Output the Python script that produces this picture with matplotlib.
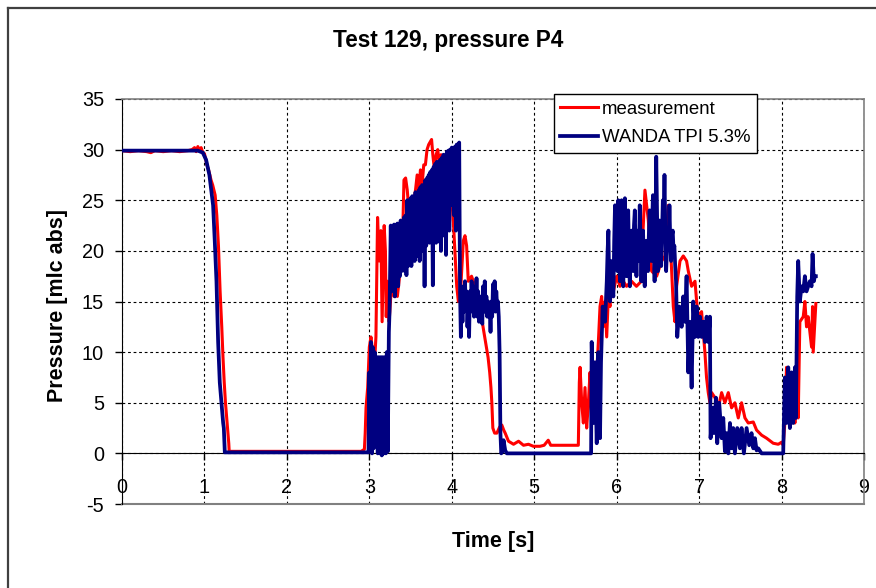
import numpy as np
import matplotlib
matplotlib.use('Agg')
from matplotlib import pyplot as plt
from matplotlib.lines import Line2D

plt.rcParams['font.family'] = ['Liberation Sans', 'DejaVu Sans']
plt.rcParams['axes.unicode_minus'] = False

#  measured pressure (red)
meas_t = [0.0, 0.1, 0.2, 0.3, 0.35, 0.4, 0.5, 0.6, 0.7, 0.8, 0.85, 0.88, 0.9, 0.92, 0.94, 0.96, 0.98,
          1.0, 1.03, 1.05, 1.08, 1.1, 1.13, 1.15, 1.17, 1.19, 1.21, 1.225, 1.24, 1.255, 1.27, 1.28, 1.295, 1.3,
          1.35, 2.0, 2.9, 2.94, 2.95, 2.96, 2.98, 3.0, 3.02, 3.04, 3.06, 3.08, 3.1, 3.12, 3.14, 3.155,
          3.18, 3.195, 3.205, 3.22, 3.24, 3.26, 3.28, 3.3, 3.32, 3.34, 3.36, 3.38, 3.4, 3.42, 3.44, 3.46,
          3.48, 3.5, 3.52, 3.54, 3.56, 3.58, 3.6, 3.62, 3.64, 3.66, 3.68, 3.7, 3.72, 3.755, 3.77, 3.79,
          3.81, 3.83, 3.85, 3.87, 3.89, 3.91, 3.93, 3.95, 3.97, 3.99, 4.01, 4.025, 4.05, 4.06, 4.08, 4.1,
          4.12, 4.14, 4.16, 4.18, 4.2, 4.24, 4.28, 4.32, 4.36, 4.385, 4.41, 4.44, 4.46, 4.475, 4.486, 4.498,
          4.52, 4.547, 4.58, 4.607, 4.63, 4.648, 4.688, 4.749, 4.81, 4.87, 4.93, 4.99, 5.07, 5.12, 5.17,
          5.2, 5.3, 5.4, 5.535, 5.547, 5.556, 5.576, 5.596, 5.616, 5.636, 5.657, 5.677, 5.697, 5.717, 5.737,
          5.758, 5.778, 5.798, 5.818, 5.838, 5.859, 5.879, 5.899, 5.919, 5.939, 5.96, 6.0, 6.04, 6.06, 6.08,
          6.12, 6.18, 6.24, 6.3, 6.32, 6.343, 6.384, 6.424, 6.485, 6.545, 6.586, 6.626, 6.667, 6.687, 6.707,
          6.727, 6.768, 6.808, 6.848, 6.869, 6.909, 6.95, 6.97, 6.99, 7.03, 7.05, 7.07, 7.09, 7.111, 7.131,
          7.152, 7.192, 7.232, 7.273, 7.313, 7.354, 7.394, 7.434, 7.475, 7.515, 7.556, 7.596, 7.657, 7.697,
          7.758, 7.818, 7.899, 7.96, 8.0, 8.02, 8.04, 8.06, 8.08, 8.1, 8.12, 8.141, 8.162, 8.182, 8.202,
          8.222, 8.263, 8.283, 8.303, 8.323, 8.343, 8.364, 8.376, 8.384, 8.404, 8.416]
meas_p = [29.9, 29.8, 29.9, 29.8, 29.7, 29.9, 29.8, 29.9, 29.8, 29.9, 30.0, 30.2, 29.8, 30.3, 29.9, 30.2, 29.7,
          29.6, 28.5, 28.0, 27.0, 26.5, 25.5, 23.5, 20.5, 16.0, 12.5, 9.5, 7.0, 5.0, 3.5, 2.5, 1.0, 0.2,
          0.2, 0.2, 0.2, 0.4, 2.0, 4.5, 6.5, 10.5, 11.5, 10.0, 8.5, 11.5, 23.3, 19.0, 22.0, 13.0,
          22.5, 20.0, 13.5, 17.0, 13.0, 15.5, 16.0, 15.5, 16.0, 15.5, 17.0, 18.5, 20.0, 27.0, 27.2, 26.0,
          24.0, 24.5, 23.5, 25.0, 26.0, 27.5, 26.0, 28.0, 26.5, 28.5, 28.5, 30.0, 30.5, 31.0, 29.5, 28.0,
          29.5, 30.0, 28.5, 29.5, 28.0, 29.0, 28.0, 27.0, 27.0, 26.5, 24.0, 22.0, 18.0, 16.5, 15.0, 15.0,
          18.0, 21.0, 21.5, 20.5, 17.0, 17.5, 16.5, 15.0, 13.5, 12.2, 11.0, 9.5, 8.0, 6.5, 5.0, 2.5,
          2.0, 2.0, 2.6, 2.8, 2.3, 2.0, 1.2, 0.9, 1.2, 0.8, 0.9, 0.7, 0.7, 0.8, 1.3,
          0.8, 0.8, 0.8, 0.8, 7.0, 8.5, 5.0, 3.0, 6.5, 2.5, 5.0, 8.0, 3.0, 6.0, 5.0,
          8.0, 11.0, 14.5, 15.5, 12.5, 15.0, 11.5, 15.5, 14.5, 16.5, 16.0, 17.5, 16.5, 18.0, 17.0,
          16.5, 17.0, 16.5, 17.0, 22.0, 26.0, 23.0, 18.0, 17.5, 19.0, 19.5, 24.5, 18.0, 14.5, 13.0,
          16.5, 19.0, 19.5, 19.0, 18.0, 16.5, 17.0, 15.0, 13.5, 14.0, 12.0, 10.0, 7.5, 6.0, 5.0,
          6.0, 5.5, 4.5, 6.0, 5.0, 6.0, 4.5, 5.0, 3.5, 5.0, 3.5, 3.0, 3.1, 2.3,
          1.8, 1.5, 1.0, 0.9, 1.1, 0.8, 3.0, 8.5, 5.0, 6.5, 3.0, 5.5, 3.0, 6.5, 3.5,
          13.0, 13.5, 15.0, 12.5, 13.5, 12.0, 10.5, 14.5, 10.0, 13.0, 14.8]

#  WANDA simulation (blue), split in pieces
w_start_t = [0.0, 0.92, 0.98, 1.02, 1.06, 1.105, 1.125, 1.146, 1.166, 1.186, 1.206, 1.227, 1.235, 1.247, 2.99,
             3.0, 3.012, 3.02, 3.033, 3.041, 3.053, 3.065, 3.078, 3.09, 3.102, 3.114, 3.127, 3.139, 3.151,
             3.163, 3.176, 3.188, 3.2, 3.212, 3.224, 3.237, 3.245]
w_start_p = [29.9, 29.9, 29.7, 29.0, 27.5, 24.5, 21.0, 17.0, 11.0, 7.0, 5.0, 3.0, 2.5, 0.1, 0.1,
             8.0, 1.0, 11.0, 0.0, 10.5, 0.5, 10.0, 1.0, 9.5, 0.0, 9.5, 0.0, 9.5, -0.2,
             9.5, 0.0, 9.5, 0.0, 10.0, 0.2, 12.0, 14.0]

w_band1_t = [3.26, 3.27, 3.28, 3.29, 3.30, 3.31, 3.32, 3.33, 3.34, 3.35, 3.36, 3.37, 3.38, 3.39,
             3.40, 3.41, 3.42, 3.43, 3.44, 3.45, 3.46, 3.47, 3.48, 3.49, 3.50, 3.51, 3.52, 3.53,
             3.54, 3.55, 3.56, 3.57, 3.58, 3.59, 3.60, 3.61, 3.62, 3.63, 3.64, 3.65, 3.66, 3.67,
             3.68, 3.69, 3.70, 3.71, 3.72, 3.73, 3.74, 3.75, 3.76, 3.77, 3.78, 3.79, 3.80, 3.81,
             3.82, 3.83, 3.84, 3.85, 3.86, 3.87, 3.88, 3.89, 3.90, 3.91, 3.92, 3.93, 3.94, 3.95,
             3.96, 3.97, 3.98, 3.99, 4.00, 4.01, 4.02, 4.03, 4.04, 4.05, 4.06, 4.07, 4.08, 4.09]
w_band1_p = [22.5, 16.0, 22.3, 16.5, 22.6, 15.5, 22.5, 17.0, 22.7, 16.5, 22.4, 17.5, 23.0, 18.0,
             22.8, 18.6, 23.3, 18.0, 23.5, 17.6, 25.0, 18.5, 24.6, 19.0, 25.2, 18.5, 25.4, 19.5,
             25.3, 19.0, 25.8, 20.0, 25.6, 19.5, 26.0, 19.0, 26.3, 20.5, 26.5, 20.0, 26.4, 16.5,
             27.0, 20.5, 27.2, 21.0, 27.5, 20.8, 27.8, 21.5, 28.0, 16.6, 28.3, 21.0, 28.6, 20.8,
             28.8, 22.0, 28.7, 20.9, 29.0, 20.0, 29.2, 22.5, 29.5, 21.5, 29.4, 19.6, 29.8, 23.0,
             29.9, 22.0, 30.0, 25.0, 30.2, 24.5, 30.0, 23.5, 30.3, 22.0, 30.5, 24.0, 30.4, 30.7]

w_band2_t = [4.10, 4.11, 4.12, 4.13, 4.14, 4.15, 4.16, 4.17, 4.18, 4.19, 4.20, 4.21, 4.22, 4.23,
             4.24, 4.25, 4.26, 4.27, 4.28, 4.29, 4.30, 4.31, 4.32, 4.33, 4.34, 4.35, 4.36, 4.37,
             4.38, 4.39, 4.40, 4.41, 4.42, 4.43, 4.44, 4.45, 4.46, 4.47, 4.48, 4.49, 4.50, 4.51,
             4.52, 4.53, 4.54, 4.55, 4.56, 4.57, 4.58, 4.59, 4.60, 4.615, 4.628, 4.648, 4.668, 5.69]
w_band2_p = [16.0, 11.5, 15.5, 13.0, 16.5, 14.0, 17.0, 14.5, 16.0, 12.5, 15.0, 11.5, 16.0, 14.0,
             17.0, 14.5, 16.5, 13.5, 16.0, 14.0, 17.3, 13.5, 16.0, 13.0, 15.5, 13.5, 15.0, 12.8,
             16.5, 14.0, 17.0, 14.0, 15.5, 13.5, 15.0, 13.5, 14.5, 12.0, 15.0, 13.5, 16.7, 14.5,
             17.0, 14.0, 16.0, 14.5, 15.0, 13.5, 10.0, 2.0, 0.0, 0.2, 1.3, 0.3, 0.0, 0.0]

w_band3_t = [5.697, 5.717, 5.737, 5.758, 5.778, 5.798, 5.81, 5.83, 5.859,
             5.88, 5.89, 5.90, 5.91, 5.92, 5.93, 5.94, 5.95, 5.96, 5.97, 5.98, 5.99, 6.00, 6.01,
             6.02, 6.03, 6.04, 6.05, 6.06, 6.07, 6.08, 6.09, 6.10, 6.11, 6.12, 6.13, 6.14, 6.15,
             6.16, 6.17, 6.18, 6.19, 6.20, 6.21, 6.22, 6.23, 6.24, 6.25, 6.26, 6.27, 6.28, 6.29,
             6.30, 6.31, 6.32, 6.33, 6.34, 6.35, 6.36, 6.37, 6.38, 6.39, 6.40, 6.41, 6.42, 6.43,
             6.44, 6.45, 6.46, 6.47, 6.48, 6.49, 6.50, 6.51, 6.52, 6.53, 6.54, 6.55, 6.56, 6.57,
             6.58, 6.59, 6.60, 6.61, 6.62, 6.63, 6.64, 6.65, 6.66, 6.67, 6.68, 6.69, 6.70, 6.71,
             6.72, 6.735]
w_band3_p = [11.0, 3.0, 9.0, 1.0, 10.0, 1.5, 9.0, 14.5, 13.0,
             17.0, 20.0, 22.0, 16.0, 15.0, 19.0, 18.5, 16.0, 15.5, 21.0, 24.5, 19.0, 21.0, 18.0,
             25.0, 19.5, 17.0, 23.5, 25.0, 18.5, 16.5, 21.0, 25.2, 20.0, 17.5, 22.5, 24.0, 19.0,
             16.5, 20.5, 22.0, 19.5, 18.0, 22.5, 24.0, 20.0, 17.5, 21.0, 22.0, 19.0, 24.5, 21.0,
             17.0, 20.5, 22.0, 18.5, 16.5, 19.0, 21.0, 19.5, 18.0, 21.5, 24.0, 21.0, 19.0, 22.5,
             25.5, 21.0, 17.0, 22.0, 29.3, 24.0, 18.0, 21.0, 23.0, 20.0, 18.5, 21.5, 25.0, 23.0,
             27.5, 22.0, 18.0, 20.0, 22.0, 20.5, 24.5, 21.0, 19.0, 21.5, 22.0, 20.0, 20.5, 18.5,
             17.0, 11.5]

w_end_t = [6.76, 6.788, 6.808, 6.828, 6.848, 6.869, 6.889, 6.909, 6.929, 6.95, 6.97, 6.99, 7.01, 7.03, 7.05,
           7.071, 7.091, 7.111, 7.131, 7.139, 7.164, 7.18, 7.204, 7.22, 7.244, 7.273, 7.293, 7.313,
           7.333, 7.354, 7.374, 7.394, 7.414, 7.434, 7.463, 7.495, 7.515, 7.543, 7.576, 7.608, 7.636,
           7.657, 7.677, 7.697, 7.717, 7.758, 8.02, 8.04, 8.06, 8.081, 8.101, 8.121, 8.141, 8.162,
           8.174, 8.19, 8.202, 8.222, 8.242, 8.263, 8.283, 8.303, 8.323, 8.343, 8.364, 8.376, 8.392,
           8.404, 8.416]
w_end_p = [14.5, 12.5, 15.5, 13.0, 17.5, 8.0, 13.0, 6.5, 15.0, 11.5, 14.5, 11.5, 13.5, 11.5, 13.0,
           11.0, 13.5, 11.0, 13.5, 1.5, 4.5, 2.0, 5.5, 1.0, 5.0, 1.5, 3.5, 0.2,
           2.0, 0.0, 3.0, 0.5, 2.5, 0.0, 2.5, 0.5, 2.5, 0.0, 2.5, 0.8, 2.0,
           0.5, 1.5, 0.3, 0.5, 0.0, 0.0, 7.5, 3.0, 8.5, 2.5, 8.0, 3.0, 8.5,
           3.5, 15.5, 19.0, 15.0, 16.5, 16.0, 17.5, 16.0, 16.5, 17.0, 16.5, 19.7, 17.0,
           17.5, 17.5]

wanda_t = w_start_t + w_band1_t + w_band2_t + w_band3_t + w_end_t
wanda_p = w_start_p + w_band1_p + w_band2_p + w_band3_p + w_end_p

x_ticks = [0, 1, 2, 3, 4, 5, 6, 7, 8, 9]
y_ticks = [-5, 0, 5, 10, 15, 20, 25, 30, 35]

fig = plt.figure(figsize=(8.76, 5.88), dpi=100)
ax = fig.add_axes([122 / 876, 84 / 588, 742 / 876, 405 / 588])

ax.plot(meas_t, meas_p, color='#ff0000', linewidth=2.2, label='measurement', zorder=3)
ax.plot(wanda_t, wanda_p, color='#000080', linewidth=2.7, label='WANDA TPI 5.3%', zorder=4)

ax.set_xlim(0, 9)
ax.set_ylim(-5, 35)
ax.set_xticks(x_ticks)
ax.set_yticks(y_ticks)
ax.grid(True, color='black', linestyle=(0, (2.5, 2.5)), linewidth=0.8)

#  excel style axes: x axis crosses at 0, grey plot-area border
ax.spines['bottom'].set_position(('data', 0))
ax.spines['bottom'].set_color('black')
ax.spines['left'].set_color('black')
for s in ['top', 'right']:
    ax.spines[s].set_color('#808080')
    ax.spines[s].set_linewidth(1.2)
ax.axhline(-5, color='#808080', linewidth=1.5, clip_on=False, zorder=2.5)

ax.tick_params(axis='x', direction='out', length=5, width=1, pad=13, labelsize=14.3)
ax.tick_params(axis='y', direction='out', length=5, width=1, pad=8, labelsize=14.3)

leg = ax.legend(loc='upper left', bbox_to_anchor=(0.582, 1.012), borderaxespad=0, fancybox=False,
                edgecolor='black', framealpha=1, fontsize=13.4, handlelength=2.0, handletextpad=0.25,
                borderpad=0.35, labelspacing=0.62)
leg.get_frame().set_linewidth(1.0)

fig.text(448 / 876, 1 - 40 / 588, 'Test 129, pressure P4', ha='center', va='center',
         fontsize=16.3, fontweight='bold')
fig.text(57 / 876, 1 - 305 / 588, 'Pressure [mlc abs]', ha='center', va='center', rotation=90,
         fontsize=15.5, fontweight='bold')
fig.text(493 / 876, 1 - 542 / 588, 'Time [s]', ha='center', va='center',
         fontsize=15.5, fontweight='bold')

#  chart area frame (only left and top edges are visible)
fig.add_artist(Line2D([7.5 / 876, 7.5 / 876], [0, 1 - 7.5 / 588], color='#404040', linewidth=1.6))
fig.add_artist(Line2D([7.5 / 876, 1], [1 - 7.5 / 588, 1 - 7.5 / 588], color='#404040', linewidth=1.6))

fig.savefig('out.png', dpi=100)
